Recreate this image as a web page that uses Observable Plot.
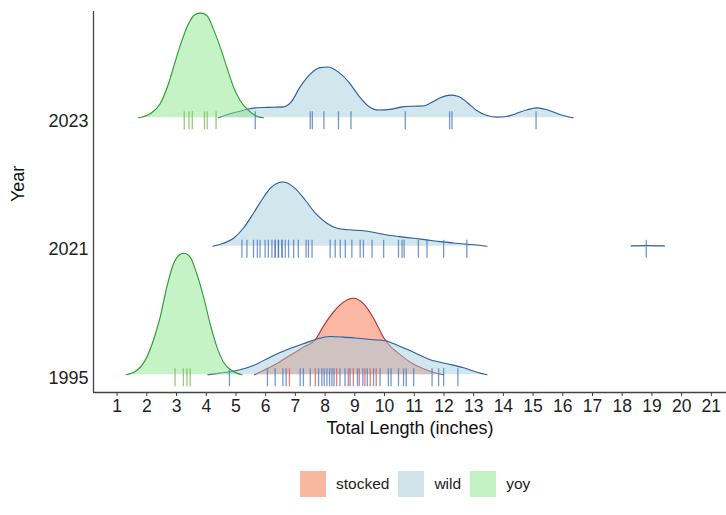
<!DOCTYPE html>
<html>
<head>
<meta charset="utf-8">
<script src="https://cdn.jsdelivr.net/npm/d3@7"></script>
<script src="https://cdn.jsdelivr.net/npm/@observablehq/plot@0.6"></script>
<style>
  html, body { margin: 0; padding: 0; background: #fff; }
  .lg-swatches { font-family: "Liberation Sans", Arial, sans-serif !important; font-size: 15.5px !important; color: #222 !important; margin-left: 300px !important; margin-top: 12px !important; }
  .lg-swatch { margin-right: 9px !important; }
  .lg-swatch > svg { margin-right: 10px !important; }
</style>
</head>
<body>
<script>
// ---- categories ----
const years = ["1995", "2021", "2023"];
const groups = ["stocked", "wild", "yoy"];
const xTicks = d3.range(1, 22);

// ---- ridge curves: [length (in), relative height] ----
const den2023_yoy = [[1.72,0],[2.11,0.031],[2.45,0.109],[2.73,0.265],[2.95,0.433],[3.18,0.60],[3.40,0.73],[3.63,0.804],[3.82,0.814],[4.02,0.796],[4.24,0.69],[4.47,0.55],[4.69,0.394],[4.92,0.238],[5.14,0.135],[5.42,0.057],[5.70,0.012],[5.93,0]];
const den2023_wild = [[4.41,0],[4.80,0.031],[5.2,0.055],[5.5,0.072],[5.9,0.08],[6.3,0.082],[6.6,0.085],[6.85,0.12],[7.16,0.24],[7.5,0.34],[7.83,0.39],[8.1,0.395],[8.45,0.355],[8.79,0.28],[9.12,0.175],[9.46,0.09],[9.8,0.06],[10.2,0.065],[10.6,0.085],[11.0,0.09],[11.3,0.092],[11.55,0.114],[11.88,0.156],[12.21,0.176],[12.49,0.166],[12.77,0.121],[13.1,0.057],[13.45,0.018],[13.8,0.005],[14.1,0.01],[14.4,0.03],[14.8,0.062],[15.13,0.077],[15.47,0.062],[15.9,0.026],[16.35,0]];
const den2021_wild = [[4.22,0],[4.58,0.023],[4.92,0.062],[5.25,0.14],[5.59,0.257],[5.87,0.36],[6.15,0.45],[6.43,0.495],[6.57,0.50],[6.71,0.495],[6.99,0.45],[7.33,0.36],[7.67,0.257],[8.06,0.179],[8.40,0.14],[8.8,0.128],[9.29,0.121],[9.7,0.105],[10.08,0.088],[10.5,0.075],[10.98,0.062],[11.4,0.05],[11.88,0.036],[12.3,0.026],[12.77,0.016],[13.1,0.01],[13.45,0]];
const den2021_wild_tail = [[18.3,0.003],[18.8,0.005],[19.42,0.003]];
const den1995_stocked = [[5.62,0],[6.04,0.047],[6.4,0.09],[6.71,0.137],[7.0,0.175],[7.27,0.215],[7.67,0.272],[7.95,0.38],[8.28,0.487],[8.62,0.565],[8.96,0.595],[9.29,0.553],[9.63,0.44],[9.97,0.29],[10.2,0.22],[10.42,0.176],[10.87,0.098],[11.31,0.047],[11.65,0.02],[11.99,0]];
const den1995_wild = [[4.05,0],[4.47,0.013],[5.03,0.033],[5.59,0.072],[6.15,0.137],[6.71,0.195],[7.27,0.241],[7.72,0.278],[8.17,0.298],[8.62,0.293],[9.18,0.282],[9.63,0.273],[10.02,0.265],[10.53,0.22],[10.98,0.176],[11.54,0.117],[12.10,0.086],[12.66,0.054],[13.11,0.02],[13.45,0]];
const den1995_yoy = [[1.30,0],[1.66,0.033],[1.94,0.11],[2.22,0.267],[2.45,0.448],[2.67,0.68],[2.90,0.864],[3.12,0.936],[3.26,0.946],[3.46,0.915],[3.68,0.786],[3.91,0.604],[4.13,0.397],[4.36,0.215],[4.58,0.098],[4.86,0.033],[5.20,0]];

// ---- individual fish lengths (rug marks) ----
const fish2023_yoy = [3.26,3.42,3.53,3.94,4.03,4.33];
const fish2023_wild = [5.65,7.50,7.57,7.96,8.45,8.87,10.70,12.19,12.27,15.10];
const fish2021_wild = [5.20,5.37,5.59,5.72,5.81,5.98,6.09,6.21,6.32,6.32,6.43,6.43,6.55,6.55,6.66,6.77,6.94,7.10,7.36,7.44,7.56,8.17,8.34,8.51,8.68,8.90,9.18,9.29,9.58,9.97,10.47,10.59,10.66,11.14,11.43,11.99,12.77,18.81];
const fish1995_yoy = [2.95,3.23,3.35,3.46];
const fish1995_stocked = [6.80,7.67,8.39,8.78,8.95,9.15,9.34,9.52,9.72];
const fish1995_wild = [4.78,6.06,6.32,6.58,6.69,7.16,7.27,7.50,7.78,7.89,7.97,8.06,8.15,8.23,8.30,8.50,8.67,8.84,9.09,9.27,9.42,9.63,9.85,10.13,10.22,10.47,10.64,10.73,10.98,11.60,11.82,11.99,12.47];

// ---- styles ----
const fillColor = {stocked: "#F5704A", wild: "#A5CEDD", yoy: "#8CE88C"};
const lineColor = {stocked: "#B0302A", wild: "#2E5E9E", yoy: "#2E9A35"};
const rugColor = {stocked: "#D9534F", wild: "#4A76BE", yoy: "#78BA50"};
const legendColor = ["#F8B7A0", "#CFE3E9", "#C3F1C3"];

const yIndex = {"1995": 0, "2021": 1, "2023": 2};

const ridgeSets = [
  {year: "2023", group: "yoy", key: "2023-yoy", pts: den2023_yoy},
  {year: "2023", group: "wild", key: "2023-wild", pts: den2023_wild},
  {year: "2021", group: "wild", key: "2021-wild", pts: den2021_wild},
  {year: "2021", group: "wild", key: "2021-wild-tail", pts: den2021_wild_tail},
  {year: "1995", group: "stocked", key: "1995-stocked", pts: den1995_stocked},
  {year: "1995", group: "wild", key: "1995-wild", pts: den1995_wild},
  {year: "1995", group: "yoy", key: "1995-yoy", pts: den1995_yoy}
];
const ridgeRows = ridgeSets.flatMap(s => s.pts.map(([x, h]) => ({year: s.year, group: s.group, key: s.key, x, h})));

const fishSets = [
  {year: "2023", group: "yoy", v: fish2023_yoy},
  {year: "2023", group: "wild", v: fish2023_wild},
  {year: "2021", group: "wild", v: fish2021_wild},
  {year: "1995", group: "stocked", v: fish1995_stocked},
  {year: "1995", group: "wild", v: fish1995_wild},
  {year: "1995", group: "yoy", v: fish1995_yoy}
];
const fishRows = fishSets.flatMap(s => s.v.map(len => ({year: s.year, group: s.group, len})));

const font = "Liberation Sans, Arial, sans-serif";
const xDomain = [0.205, 21.51];
const yDomain = [-0.138, 2.827];

const ridgeMarks = groups.flatMap(g => {
  const data = ridgeRows.filter(d => d.group === g);
  return [
    Plot.areaY(data, {x: "x", y1: d => yIndex[d.year], y2: d => yIndex[d.year] + d.h, z: "key",
      fill: fillColor[g], fillOpacity: 0.5, curve: "monotone-x"}),
    Plot.lineY(data, {x: "x", y: d => yIndex[d.year] + d.h, z: "key",
      stroke: lineColor[g], strokeWidth: 1.1, curve: "monotone-x"})
  ];
});

const rugMarks = groups.map(g =>
  Plot.ruleX(fishRows.filter(d => d.group === g), {
    x: "len", y1: d => yIndex[d.year], y2: d => yIndex[d.year],
    insetTop: -6, insetBottom: -12,
    stroke: rugColor[g], strokeOpacity: 0.75, strokeWidth: 1.3
  })
);

const chart = Plot.plot({
  width: 726,
  height: 455,
  marginLeft: 93,
  marginRight: 0,
  marginTop: 11,
  marginBottom: 63,
  style: {fontFamily: font, background: "#fff", color: "#222", overflow: "visible"},
  x: {domain: xDomain},
  y: {domain: yDomain},
  marks: [
    ...ridgeMarks,
    ...rugMarks,
    Plot.ruleX([xDomain[0]], {stroke: "#444", strokeWidth: 1.3}),
    Plot.ruleY([yDomain[0]], {stroke: "#444", strokeWidth: 1.3}),
    Plot.axisX(xTicks, {tickSize: 4, tickPadding: 3, fontSize: 17.5, stroke: "#444", fill: "#222", label: null}),
    Plot.axisY([0, 1, 2], {tickFormat: i => years[i], tickSize: 0, tickPadding: 5, fontSize: 18, dy: 3, fill: "#222", label: null}),
    Plot.text(["Total Length (inches)"], {frameAnchor: "bottom", dy: 41, fontSize: 18, fill: "#111"}),
    Plot.text(["Year"], {frameAnchor: "left", dx: -75, rotate: -90, fontSize: 18, fill: "#111"})
  ]
});

const legend = Plot.legend({
  color: {type: "ordinal", domain: groups, range: legendColor},
  legend: "swatches",
  swatchSize: 26,
  className: "lg"
});

document.body.append(chart, legend);
</script>
</body>
</html>
